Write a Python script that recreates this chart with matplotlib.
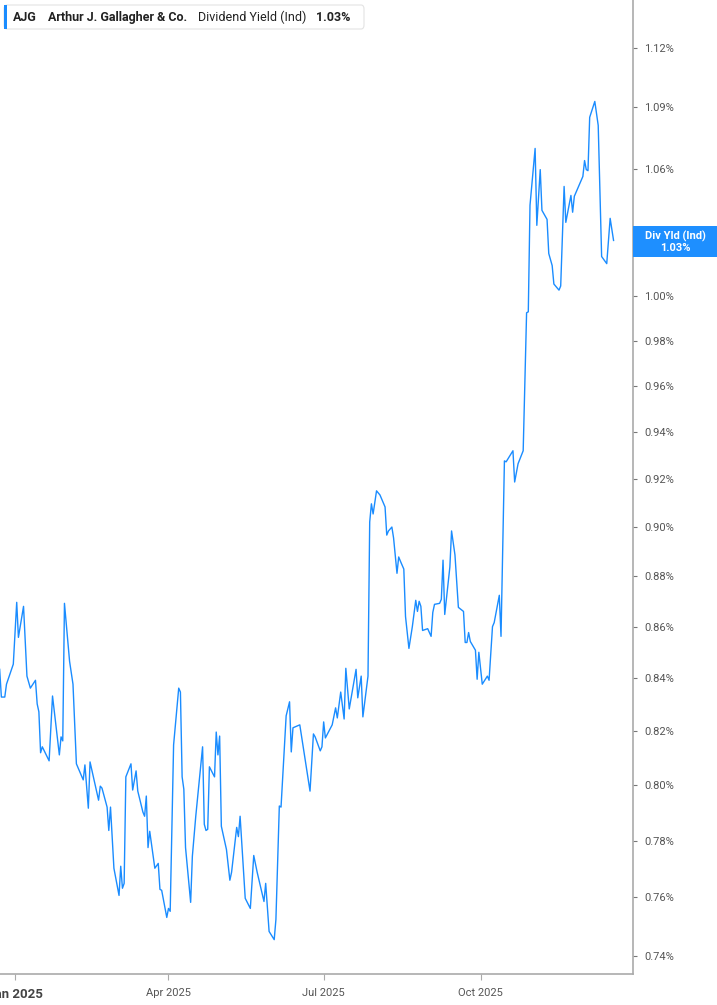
import matplotlib
matplotlib.use("Agg")
import matplotlib.pyplot as plt
import matplotlib.patches as mpatches
import pandas as pd
from matplotlib.ticker import FixedLocator, NullLocator

plt.rcParams["font.family"] = ["Roboto", "DejaVu Sans"]

# days since 2025-01-01 and dividend yield (%)
day_offsets = [
    -9, -8, -6, -5, -1, 1, 2, 5, 7, 9, 12, 13, 14, 15, 16, 20, 22, 26, 27, 28,
    29, 32, 34, 36, 40, 41, 43, 44, 49, 50, 51, 54, 55, 56, 58, 61, 62, 63, 64, 65,
    68, 69, 71, 72, 75, 76, 77, 78, 79, 82, 84, 85, 86, 89, 90, 91, 93, 96, 97, 98,
    99, 100, 103, 104, 106, 110, 111, 112, 113, 114, 117, 118, 119, 120, 121, 124, 126, 127, 130, 131,
    132, 135, 138, 140, 142, 146, 147, 149, 152, 153, 155, 156, 159, 161, 162, 163, 167, 173, 175, 176,
    179, 180, 181, 182, 186, 188, 189, 191, 193, 194, 196, 200, 201, 203, 204, 207, 208, 209, 210, 212,
    214, 217, 218, 219, 221, 222, 224, 225, 226, 228, 229, 231, 233, 235, 236, 237, 238, 239, 242, 244,
    245, 246, 249, 250, 251, 252, 255, 256, 258, 260, 263, 264, 265, 266, 267, 270, 271, 272, 274, 277,
    278, 280, 281, 284, 285, 287, 288, 292, 293, 295, 298, 300, 301, 302, 305, 306, 308, 309, 312, 313,
    315, 316, 319, 320, 322, 323, 326, 327, 328, 333, 334, 335, 336, 337, 340, 342, 344, 347, 349, 351,
]
yield_pct = [
    0.8434, 0.8328, 0.8328, 0.8377, 0.8454, 0.8696, 0.8558, 0.8680, 0.8408, 0.8362,
    0.8392, 0.8302, 0.8272, 0.8119, 0.8141, 0.8089, 0.8332, 0.8111, 0.8178, 0.8163,
    0.8692, 0.8465, 0.8377, 0.8078, 0.8019, 0.8074, 0.7916, 0.8085, 0.7945, 0.7996,
    0.7989, 0.7920, 0.7836, 0.7920, 0.7702, 0.7607, 0.7709, 0.7632, 0.7649, 0.8030,
    0.8078, 0.7982, 0.8052, 0.7978, 0.7902, 0.7887, 0.7960, 0.7775, 0.7833, 0.7702,
    0.7719, 0.7628, 0.7625, 0.7531, 0.7562, 0.7552, 0.8148, 0.8362, 0.8347, 0.8030,
    0.7985, 0.7775, 0.7583, 0.7744, 0.7887, 0.8141, 0.7858, 0.7836, 0.7840, 0.8067,
    0.8030, 0.8196, 0.8111, 0.8181, 0.7851, 0.7768, 0.7660, 0.7688, 0.7847, 0.7814,
    0.7887, 0.7597, 0.7562, 0.7747, 0.7688, 0.7586, 0.7649, 0.7483, 0.7455, 0.7524,
    0.7924, 0.7920, 0.8257, 0.8310, 0.8122, 0.8212, 0.8223, 0.7978, 0.8189, 0.8178,
    0.8126, 0.8141, 0.8234, 0.8174, 0.8223, 0.8287, 0.8249, 0.8347, 0.8245, 0.8438,
    0.8283, 0.8434, 0.8325, 0.8408, 0.8253, 0.8408, 0.9021, 0.9096, 0.9054, 0.9150,
    0.9133, 0.9083, 0.8967, 0.8984, 0.9000, 0.8955, 0.8812, 0.8878, 0.8861, 0.8829,
    0.8640, 0.8515, 0.8600, 0.8704, 0.8660, 0.8700, 0.8680, 0.8585, 0.8592, 0.8562,
    0.8656, 0.8688, 0.8692, 0.8708, 0.8865, 0.8648, 0.8837, 0.8984, 0.8886, 0.8676,
    0.8660, 0.8538, 0.8538, 0.8577, 0.8542, 0.8508, 0.8396, 0.8500, 0.8377, 0.8408,
    0.8392, 0.8600, 0.8616, 0.8724, 0.8562, 0.9276, 0.9272, 0.9319, 0.9187, 0.9264,
    0.9319, 0.9925, 0.9929, 1.0424, 1.0698, 1.0329, 1.0595, 1.0400, 1.0357, 1.0197,
    1.0141, 1.0056, 1.0028, 1.0047, 1.0514, 1.0343, 1.0471, 1.0391, 1.0467, 1.0562,
    1.0639, 1.0595, 1.0590, 1.0851, 1.0930, 1.0811, 1.0183, 1.0150, 1.0362, 1.0258,
]

y_ticks = [0.74, 0.76, 0.78, 0.80, 0.82, 0.84, 0.86, 0.88, 0.90, 0.92, 0.94,
           0.96, 0.98, 1.00, 1.03, 1.06, 1.09, 1.12]
x_tick_dates = ["2025-01-01", "2025-04-01", "2025-07-01", "2025-10-01"]
x_tick_labels = ["Jan 2025", "Apr 2025", "Jul 2025", "Oct 2025"]

ticker = "AJG"
company = "Arthur J. Gallagher & Co."
metric = "Dividend Yield (Ind)"
last_label = "1.03%"
tag_title = "Div Yld (Ind)"

LINE = "#1a8cff"
GRAY = "#555555"
SPINE = "#aaaaaa"

base = pd.Timestamp("2025-01-01")
dates = [base + pd.Timedelta(days=d) for d in day_offsets]

fig = plt.figure(figsize=(7.17, 10.05), dpi=100)
ax = fig.add_axes([0.0, 31 / 1005, 633 / 717, 974 / 1005])

ax.plot(dates, yield_pct, color=LINE, linewidth=1.0)

ax.set_yscale("log")
ax.set_ylim(0.7339, 1.1448)
ax.set_xlim(base - pd.Timedelta(days=8.8), base + pd.Timedelta(days=362.4))

ax.yaxis.set_major_locator(FixedLocator(y_ticks))
ax.yaxis.set_minor_locator(NullLocator())
# the 1.03% tick label sits under the last-value tag, so leave it blank
ax.set_yticklabels(["" if t == 1.03 else f"{t:.2f}%" for t in y_ticks])
ax.yaxis.tick_right()
ax.tick_params(axis="y", which="major", direction="out", length=3, width=0.8,
               color="#777777", labelcolor=GRAY, labelsize=8, pad=5)

ax.set_xticks([pd.Timestamp(d) for d in x_tick_dates])
ax.set_xticklabels(x_tick_labels)
ax.tick_params(axis="x", direction="out", length=4, width=0.8, color=SPINE,
               labelcolor=GRAY, labelsize=8, pad=6)
xl = ax.get_xticklabels()
xl[0].set_fontweight("bold")
xl[0].set_color("#444444")
xl[0].set_fontsize(9.5)

for side in ("left", "top"):
    ax.spines[side].set_visible(False)
for side in ("right", "bottom"):
    ax.spines[side].set_color(SPINE)
    ax.spines[side].set_linewidth(1.2)

# legend header box
W, H = 717.0, 1005.0
box = mpatches.FancyBboxPatch((4 / W, 1 - 29 / H), 360 / W, 24 / H,
                              boxstyle="round,pad=0,rounding_size=0.004",
                              transform=fig.transFigure, facecolor="white",
                              edgecolor="#e3e3e3", linewidth=0.8, zorder=5)
fig.patches.append(box)
bar = mpatches.Rectangle((4 / W, 1 - 29 / H), 2.5 / W, 24 / H,
                         transform=fig.transFigure, facecolor=LINE,
                         edgecolor="none", zorder=6)
fig.patches.append(bar)
ty = 1 - 17.5 / H
for x, s, w in [(13, ticker, "bold"), (48, company, "bold"),
                (198, metric, "normal"), (316, last_label, "bold")]:
    fig.text(x / W, ty, s, fontsize=9, fontweight=w, color="#222222",
             va="center", zorder=8)

# last-value tag on the right axis
tag = mpatches.Rectangle((633 / W, 1 - 257 / H), 84 / W, 31 / H,
                         transform=fig.transFigure, facecolor="#1e8fff",
                         edgecolor="none", zorder=6)
fig.patches.append(tag)
fig.text(675 / W, 1 - 236 / H, tag_title, fontsize=8, fontweight="bold",
         color="white", ha="center", va="center", zorder=8)
fig.text(675 / W, 1 - 248 / H, last_label, fontsize=8, fontweight="bold",
         color="white", ha="center", va="center", zorder=8)

fig.savefig("out.png", dpi=100)
